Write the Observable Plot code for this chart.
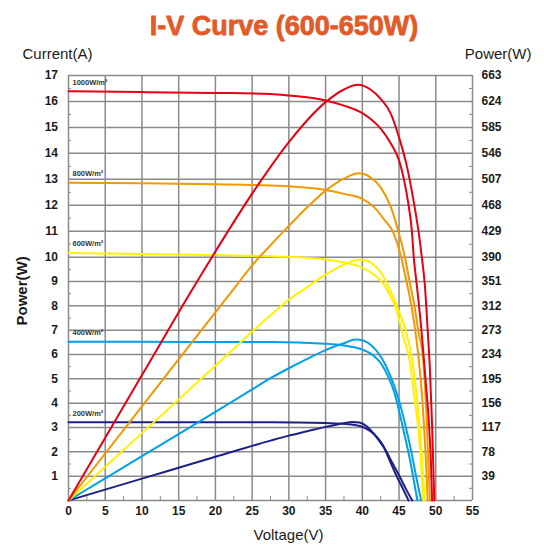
<!DOCTYPE html>
<html><head><meta charset="utf-8">
<script src="https://cdn.jsdelivr.net/npm/d3@7"></script>
<script src="https://cdn.jsdelivr.net/npm/@observablehq/plot@0.6"></script>
<style>body{margin:0;background:#fff}</style>
</head><body><div id="chart"></div>
<script>
// ---- tick labels ----
const voltTicks = [0,5,10,15,20,25,30,35,40,45,50,55];
const currentTicks = [1,2,3,4,5,6,7,8,9,10,11,12,13,14,15,16,17];
const powerTicks = [39,78,117,156,195,234,273,312,351,390,429,468,507,546,585,624,663];
const gridCurrent = [0,1,2,3,4,5,6,7,8,9,10,11,12,13,14,15,16,17];
const minorVolt = [2.5,7.5,12.5,17.5,22.5,27.5,32.5,37.5,42.5,47.5,52.5];
const minorCurrent = [0.5,1.5,2.5,3.5,4.5,5.5,6.5,7.5,8.5,9.5,10.5,11.5,12.5,13.5,14.5,15.5,16.5];

// ---- series: irradiance labels and colours ----
const irradiances = ["1000W/m²","800W/m²","600W/m²","400W/m²","200W/m²"];
const colors = ["#e60012","#f39800","#fff100","#00a0e9","#1d2088"];

// ---- I-V curves: [voltage V, current A] ----
const iv1000 = [[0,16.39],[10,16.36],[20,16.33],[27.5,16.29],[30,16.23],[35,16.04],[37.5,15.84],[40,15.55],[41.1,15.33],[42.5,14.95],[43.9,14.37],[45,13.73],[45.7,12.95],[46.3,12.0],[46.75,11.0],[47.0,10.0],[47.4,8.9],[48.05,7.0],[48.6,5.0],[49.1,3.0],[49.35,1.5],[49.5,0]];
const iv800 = [[0,12.87],[10,12.85],[20,12.81],[27.5,12.76],[34.8,12.6],[37.5,12.44],[40,12.25],[41.6,11.93],[42.9,11.48],[44.3,10.9],[45.2,10.1],[45.8,9.3],[46.3,8.6],[46.8,7.8],[47.2,7.0],[47.7,5.75],[48.2,4.0],[48.6,2.0],[48.9,0]];
const iv600 = [[0,10.16],[10,10.12],[20,10.08],[28.2,10.03],[35,9.91],[37.5,9.78],[40,9.57],[41.6,9.28],[43,8.84],[43.9,8.36],[44.6,7.88],[45.2,7.19],[45.6,6.7],[46.45,5.75],[47.1,4.2],[47.6,3.0],[48.0,1.5],[48.3,0]];
const iv400 = [[0,6.52],[10,6.52],[20,6.51],[27.5,6.51],[35,6.44],[37.5,6.37],[40,6.2],[41.1,6.05],[42.5,5.65],[43.5,5.1],[44.4,4.4],[45.3,3.3],[45.9,2.5],[46.6,1.5],[47.2,0.5],[47.5,0]];
const iv200 = [[0,3.22],[10,3.22],[20,3.22],[27.5,3.22],[35,3.19],[37.5,3.15],[39,3.1],[40,3.03],[41.1,2.85],[42,2.6],[42.8,2.27],[43.4,1.88],[44.0,1.45],[44.7,0.98],[45.5,0.5],[46.3,0]];

// ---- P-V curves: [voltage V, power W] ----
const p1000 = [[0,0],[10,201],[17.3,347],[25.7,497],[30,563],[35,623],[37.5,642],[39.4,649],[41.1,642],[42.5,628],[43.9,605],[45,570],[46.1,525],[47.05,470],[47.7,425],[48.1,390],[48.5,347],[48.9,273],[49.2,210],[49.5,120],[49.8,0]];
const p800 = [[0,0],[10,151],[23,347],[25,377],[27.5,408],[30,437],[32.5,465],[35,490],[37.5,508],[39.5,516],[41.1,510],[42.5,495],[43.9,465],[45,425],[45.8,390],[46.5,347],[47.1,312],[47.6,273],[48.3,224],[48.8,120],[49.2,0]];
const p600 = [[0,0],[10,108],[20,216],[27.5,297],[30,322],[32.5,342],[35,362],[37.5,378],[39.5,386],[40.5,385],[41.5,378],[42.5,366],[43.6,342],[44.6,315],[45.2,296],[45.9,273],[46.8,224],[47.5,156],[48.0,90],[48.5,0]];
const p400 = [[0,0],[10,71],[20,142],[25,178],[27.5,196],[30,212],[32.5,227],[35,241],[37.5,252],[39.1,258],[40.2,256],[41.2,249],[42.2,236],[43.2,216],[44.2,188],[45,160],[45.8,124],[46.6,82],[47.3,40],[48,0]];
const p200 = [[0,0],[10,35],[20,70],[27.5,96],[30,104],[32.5,111],[35,118],[37.5,124],[38.6,126],[39.6,125],[40.6,119],[41.5,108],[42.4,94],[43.2,80],[44.1,60],[45.1,38],[46,17],[46.8,0]];

const ivSeries = [iv1000, iv800, iv600, iv400, iv200];
const pSeries = [p1000, p800, p600, p400, p200];
const wattsPerAmpTick = powerTicks[0]; // right axis: 39 W per gridline

const irrLabels = irradiances.map((t, i) => ({t, i: ivSeries[i][0][1]}));

const textColor = "#1a1a1a";
const gridColor = "#8a8a8a";
const titleColor = "#e25a2a";

const lineMarks = [];
for (let k = ivSeries.length - 1; k >= 0; k--) {
  lineMarks.push(Plot.line(pSeries[k], {x: d => d[0], y: d => d[1] / wattsPerAmpTick, stroke: colors[k], strokeWidth: 2, curve: "monotone-x"}));
  lineMarks.push(Plot.line(ivSeries[k], {x: d => d[0], y: d => d[1], stroke: colors[k], strokeWidth: 2, curve: "monotone-x"}));
}

const chart = Plot.plot({
  width: 544, height: 547,
  marginTop: 75, marginBottom: 47, marginLeft: 68, marginRight: 72,
  style: {fontFamily: "'Liberation Sans', Arial, sans-serif", background: "#fff", color: textColor},
  x: {type: "linear", domain: [0, 55], axis: null},
  y: {type: "linear", domain: [0, 10, 17], range: [500, 256.7, 75], axis: null},
  marks: [
    Plot.ruleX(voltTicks, {x: d => d, stroke: gridColor, strokeWidth: 1.5}),
    Plot.ruleY(gridCurrent, {y: d => d, stroke: gridColor, strokeWidth: 1.5}),
    Plot.tickX(minorVolt, {x: d => d, stroke: gridColor, strokeWidth: 1, insetTop: 421}),
    Plot.tickY(minorCurrent, {y: d => d, stroke: gridColor, strokeWidth: 1, insetRight: 401}),
    Plot.tickY(minorCurrent, {y: d => d, stroke: gridColor, strokeWidth: 1, insetLeft: 401}),
    ...lineMarks,
    Plot.text(irrLabels, {y: d => d.i, text: d => d.t, frameAnchor: "left", dx: 4, dy: -9, textAnchor: "start", fontSize: 7.5, fontWeight: "bold", fill: "#333"}),
    // tick labels
    Plot.text(currentTicks, {y: d => d, text: d => String(d), frameAnchor: "left", dx: -10.5, textAnchor: "end", fontSize: 12, fontWeight: "bold", fill: textColor}),
    Plot.text(powerTicks, {y: d => d / wattsPerAmpTick, text: d => String(d), frameAnchor: "right", dx: 9, textAnchor: "start", fontSize: 12, fontWeight: "bold", fill: textColor}),
    Plot.text(voltTicks, {x: d => d, text: d => String(d), frameAnchor: "bottom", dy: 14.5, fontSize: 12, fontWeight: "bold", fill: textColor}),
    // titles
    Plot.text(["I-V Curve (600-650W)"], {text: d => d, frameAnchor: "top", dx: 13.5, dy: -40.5, lineAnchor: "bottom", fontSize: 27, fontWeight: "bold", fill: titleColor, stroke: titleColor, strokeWidth: 0.8}),
    Plot.text(["Current(A)"], {text: d => d, frameAnchor: "top-left", dx: -46, dy: -27.5, textAnchor: "start", fontSize: 15, fill: textColor}),
    Plot.text(["Power(W)"], {text: d => d, frameAnchor: "top-right", dx: 59, dy: -27.5, textAnchor: "end", fontSize: 15, fill: textColor}),
    Plot.text(["Voltage(V)"], {text: d => d, frameAnchor: "bottom", dx: 18, dy: 39, fontSize: 15, fill: textColor}),
    Plot.text(["Power(W)"], {text: d => d, frameAnchor: "left", dx: -46, dy: 37.5, rotate: -90, fontSize: 15, fontWeight: "bold", fill: textColor})
  ]
});
document.getElementById("chart").append(chart);
</script>
</body></html>
